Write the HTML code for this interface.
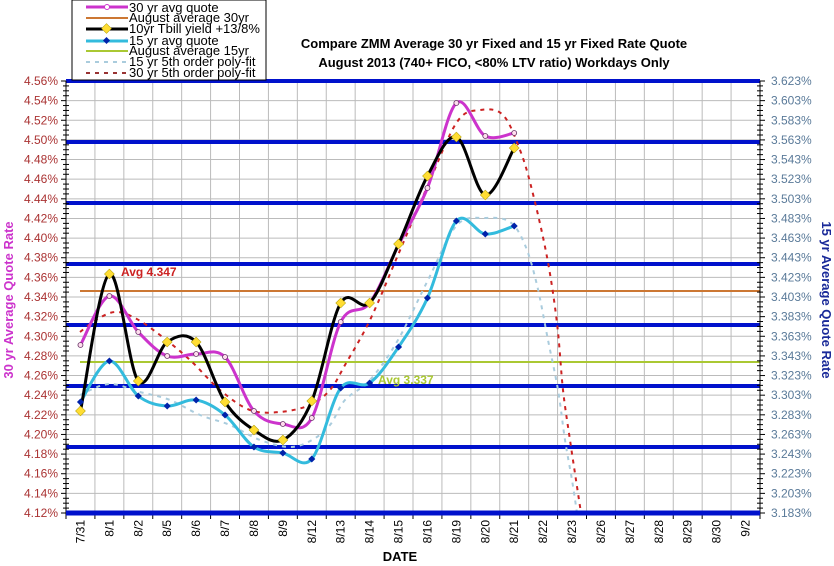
<!DOCTYPE html>
<html><head><meta charset="utf-8"><style>
body{margin:0;background:#fff;width:834px;height:566px;overflow:hidden}
svg{display:block;font-family:"Liberation Sans",sans-serif}
</style></head><body>
<svg id="s" width="834" height="566" viewBox="0 0 834 566" xmlns="http://www.w3.org/2000/svg">
<rect width="834" height="566" fill="#fff"/>
<g id="grid"></g>
<g id="series"></g>
<g id="fg"></g>
<rect x="72" y="0" width="194" height="80" fill="#fff" stroke="#000" stroke-width="1"/>
<g font-size="13" fill="#000">
<line x1="86" y1="7" x2="128" y2="7" stroke="#cc33cc" stroke-width="3"/><circle cx="107" cy="7" r="2.5" fill="#fff" stroke="#cc33cc"/>
<text x="129" y="12">30 yr avg quote</text>
<line x1="86" y1="18" x2="128" y2="18" stroke="#cc7733" stroke-width="2"/>
<text x="129" y="22">August average 30yr</text>
<line x1="86" y1="29" x2="128" y2="29" stroke="#000" stroke-width="3"/><rect x="103" y="25" width="7" height="7" transform="rotate(45 106.5 28.5)" fill="#ffdd33" stroke="#aa9900" stroke-width=".5"/>
<text x="129" y="33">10yr Tbill yield +13/8%</text>
<line x1="86" y1="41" x2="128" y2="41" stroke="#33bbdd" stroke-width="3"/><rect x="104" y="38" width="5" height="5" transform="rotate(45 106.5 40.5)" fill="#0022aa"/>
<text x="129" y="45">15 yr avg quote</text>
<line x1="86" y1="51" x2="128" y2="51" stroke="#aac833" stroke-width="2"/>
<text x="129" y="55">August average 15yr</text>
<line x1="86" y1="62" x2="128" y2="62" stroke="#aaccdd" stroke-width="2" stroke-dasharray="4,5"/>
<text x="129" y="66">15 yr 5th order poly-fit</text>
<line x1="86" y1="73" x2="128" y2="73" stroke="#993333" stroke-width="2" stroke-dasharray="4,5"/>
<text x="129" y="77">30 yr 5th order poly-fit</text>
</g>
<g font-size="13" font-weight="bold" text-anchor="middle" fill="#000">
<text x="494" y="48">Compare ZMM Average 30 yr Fixed and 15 yr Fixed Rate Quote</text>
<text x="494" y="67">August 2013  (740+ FICO, &lt;80% LTV ratio) Workdays Only</text>
<text x="400" y="561">DATE</text>
</g>
<text transform="translate(13,300) rotate(-90)" text-anchor="middle" font-size="13" font-weight="bold" fill="#cc33cc">30 yr Average Quote Rate</text>
<text transform="translate(822,300) rotate(90)" text-anchor="middle" font-size="13" font-weight="bold" fill="#1a2a99">15 yr Average Quote Rate</text>
<text x="121" y="276" font-size="12" font-weight="bold" fill="#cc2222">Avg 4.347</text>
<text x="378" y="384" font-size="12" font-weight="bold" fill="#aac833">Avg  3.337</text>
</svg>
<script>
const NS="http://www.w3.org/2000/svg";
function el(p,t,a,txt){const e=document.createElementNS(NS,t);for(const k in a)e.setAttribute(k,a[k]);if(txt!==undefined)e.textContent=txt;document.getElementById(p).appendChild(e);return e;}
const L=66,R=760,T=81,B=513,cw=(R-L)/24,rh=(B-T)/22;
const cats=["7/31","8/1","8/2","8/5","8/6","8/7","8/8","8/9","8/12","8/13","8/14","8/15","8/16","8/19","8/20","8/21","8/22","8/23","8/26","8/27","8/28","8/29","8/30","9/2"];
for(let i=0;i<=22;i++){const y=T+i*rh;el("grid","line",{x1:L,x2:R,y1:y,y2:y,stroke:"#bbb","stroke-width":1});
 const v=(4.56-i*0.02).toFixed(2)+"%";el("grid","text",{x:58,y:y+4,"text-anchor":"end","font-size":12,fill:"#aa3333"},v);
 const w=(3.623-i*0.02).toFixed(3)+"%";el("grid","text",{x:771,y:y+4,"font-size":12,fill:"#5a7a99"},w);}
for(let i=0;i<=24;i++){const x=L+i*cw;el("grid","line",{x1:x,x2:x,y1:T,y2:B,stroke:"#bbb","stroke-width":1});
 el("fg","line",{x1:x,x2:x,y1:B,y2:B+6,stroke:"#000"});}
cats.forEach((c,i)=>{const x=L+(i+0.5)*cw+4;el("fg","text",{transform:`translate(${x},${520}) rotate(-90)`,"text-anchor":"end","font-size":12,fill:"#000"},c);});
// axes ticks
for(let i=0;i<=88;i++){const y=T+i*rh/4;const w=i%4?3:5;el("fg","line",{x1:L-w,x2:L+(i%4?3:0),y1:y,y2:y,stroke:"#000"});el("fg","line",{x1:R-(i%4?3:0),x2:R+w,y1:y,y2:y,stroke:"#000"});}
el("fg","line",{x1:L,x2:L,y1:T,y2:B,stroke:"#000"});el("fg","line",{x1:R,x2:R,y1:T,y2:B,stroke:"#000"});
[81,142,203,264,325,386,447].forEach(y=>el("grid","line",{x1:L,x2:R,y1:y,y2:y,stroke:"#0011cc","stroke-width":4}));
el("fg","line",{x1:L,x2:R,y1:B,y2:B,stroke:"#0011cc","stroke-width":5});
el("series","line",{x1:80,x2:R,y1:291,y2:291,stroke:"#cc7733","stroke-width":2});
el("series","line",{x1:80,x2:R,y1:362,y2:362,stroke:"#aac833","stroke-width":2});
function cr(p){let d="M"+p[0][0]+","+p[0][1];for(let i=0;i<p.length-1;i++){const p0=p[i-1]||p[i],p1=p[i],p2=p[i+1],p3=p[i+2]||p2;
 d+=` C${p1[0]+(p2[0]-p0[0])/6},${p1[1]+(p2[1]-p0[1])/6} ${p2[0]-(p3[0]-p1[0])/6},${p2[1]-(p3[1]-p1[1])/6} ${p2[0]},${p2[1]}`;}return d;}
const X=i=>L+(i+0.5)*cw;
const mag=[345,296,332,356,354,357,411,424,418,322,303,245,188,103,136,133].map((y,i)=>[X(i),y]);
const blk=[411,274,381,342,342,402,430,440,401,303,303,244,176,137,195,148].map((y,i)=>[X(i),y]);
const cyn=[402,361,396,406,400,415,447,453,459,388,383,347,298,221,234,226].map((y,i)=>[X(i),y]);
const rf=[[80,332],[96,320],[115,312],[135,318],[160,335],[190,360],[220,390],[250,410],[280,412],[310,405],[330,390],[345,365],[370,320],[398,255],[428,185],[457,122],[480,110],[503,115],[520,150],[532,190],[547,257],[557,323],[563,390],[570,440],[576,480],[581,513]];
const bf=[[80,395],[109,384],[140,392],[170,400],[200,415],[230,425],[260,440],[290,447],[312,440],[330,425],[345,400],[370,380],[398,340],[428,280],[457,225],[486,218],[510,222],[525,245],[537,285],[548,340],[558,390],[565,440],[572,480],[577,513]];
el("series","path",{d:cr(bf),fill:"none",stroke:"#aaccdd","stroke-width":2,"stroke-dasharray":"4,5"});
el("series","path",{d:cr(rf),fill:"none",stroke:"#cc2222","stroke-width":2,"stroke-dasharray":"4,5"});
el("series","path",{d:cr(cyn),fill:"none",stroke:"#33bbdd","stroke-width":3});
el("series","path",{d:cr(mag),fill:"none",stroke:"#cc33cc","stroke-width":3});
el("series","path",{d:cr(blk),fill:"none",stroke:"#000","stroke-width":3});
mag.forEach(p=>el("series","circle",{cx:p[0],cy:p[1],r:2.5,fill:"#fde",stroke:"#663366","stroke-width":.8}));
cyn.forEach(p=>el("series","rect",{x:p[0]-2.5,y:p[1]-2.5,width:5,height:5,transform:`rotate(45 ${p[0]} ${p[1]})`,fill:"#0022aa"}));
blk.forEach(p=>el("series","rect",{x:p[0]-3.5,y:p[1]-3.5,width:7,height:7,transform:`rotate(45 ${p[0]} ${p[1]})`,fill:"#ffdd33",stroke:"#aa9900","stroke-width":.5}));
</script>
</body></html>
